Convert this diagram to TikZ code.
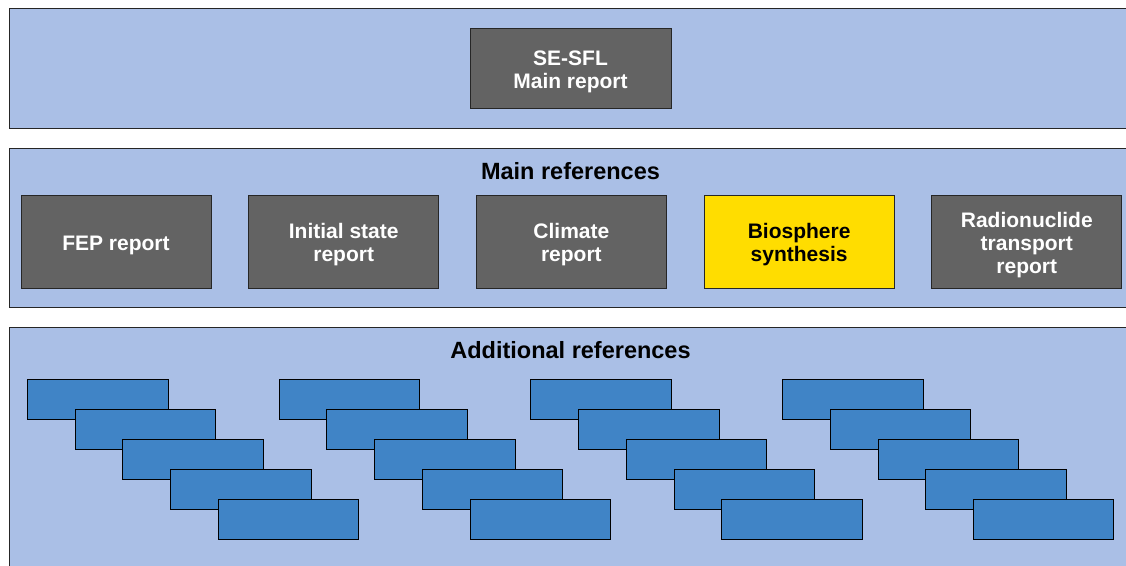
\documentclass[tikz,border=0pt]{standalone}
\usepackage{fontspec}
\setmainfont{Liberation Sans}
\definecolor{panelblue}{HTML}{AABFE6}
\definecolor{reportgray}{HTML}{636363}
\definecolor{synthyellow}{HTML}{FFDD00}
\definecolor{addblue}{HTML}{4084C6}

\begin{document}
\begin{tikzpicture}[x=1pt,y=-1pt,
    panel/.style={draw=black!85, fill=panelblue, line width=1pt},
    reporttext/.style={text=white, font=\fontsize{21}{23}\selectfont\bfseries,
      align=center, inner sep=0pt, yshift=-3.5pt},
    reportbox/.style={draw=black!85, fill=reportgray, line width=1pt,
      minimum width=190pt, minimum height=93pt, inner sep=0pt},
    report/.style={reportbox, label={[reporttext]center:#1}},
    synthesis/.style={reportbox, fill=synthyellow, label={[reporttext, text=black]center:#1}},
    heading/.style={font=\fontsize{23.5}{26}\selectfont\bfseries, inner sep=0pt},
    addref/.style={draw=black, fill=addblue, line width=1pt, anchor=north west,
      minimum width=140.5pt, minimum height=40pt, inner sep=0pt}]
    \useasboundingbox (0,0) rectangle (1126,565);
    % panels
    \draw[panel] (9,8) rectangle (1132,128);
    \draw[panel] (9,148) rectangle (1132,307);
    \draw[panel] (9,327) rectangle (1132,572);
    % main report
    \node[report={SE-SFL\\Main report}, minimum width=201pt, minimum height=80pt] (main) at (570.5,68) {};
    % main references
    \node[heading] (mainrefs) at (570.5,171) {Main references};
    \node[report={FEP report}] (fep) at (116,241.5) {};
    \node[report={Initial state\\report}] (initial) at (343.7,241.5) {};
    \node[report={Climate\\report}] (climate) at (571.4,241.5) {};
    \node[synthesis={Biosphere\\synthesis}] (biosphere) at (799.1,241.5) {};
    \node[report={Radionuclide\\transport\\report}] (transport) at (1026.8,241.5) {};
    % additional references
    \node[heading] (addrefs) at (570.5,350) {Additional references};
    \foreach \j in {0,...,3}
      \foreach \i in {0,...,4}
        \node[addref] (add-\j-\i) at ({27+251.7*\j+47.7*\i},{379+30*\i}) {};
\end{tikzpicture}
\end{document}
